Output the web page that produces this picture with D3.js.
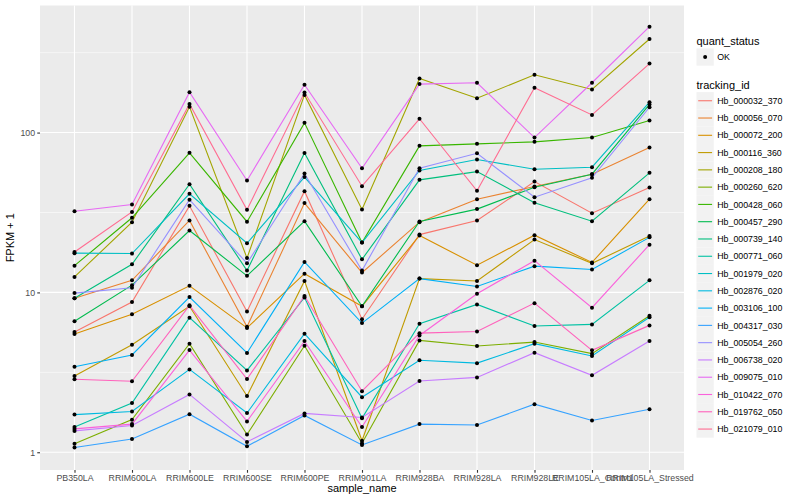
<!DOCTYPE html>
<html><head><meta charset="utf-8">
<script src="https://cdn.jsdelivr.net/npm/d3@7"></script>
<style>
body{margin:0;background:#fff}
svg{display:block}
text{font-family:"Liberation Sans",Arial,Helvetica,sans-serif}
</style>
</head><body><svg id="chart" width="800" height="500"></svg>
<script>
// ---- data ----
const samples = ["PB350LA","RRIM600LA","RRIM600LE","RRIM600SE","RRIM600PE","RRIM901LA","RRIM928BA","RRIM928LA","RRIM928LE","RRIM105LA_Control","RRIM105LA_Stressed"];
const trackingIds = ["Hb_000032_370","Hb_000056_070","Hb_000072_200","Hb_000116_360","Hb_000208_180","Hb_000260_620","Hb_000428_060","Hb_000457_290","Hb_000739_140","Hb_000771_060","Hb_001979_020","Hb_002876_020","Hb_003106_100","Hb_004317_030","Hb_005054_260","Hb_006738_020","Hb_009075_010","Hb_010422_070","Hb_019762_050","Hb_021079_010"];
const palette = ["#F8766D","#EA8331","#D89000","#C09B00","#A3A500","#7CAE00","#39B600","#00BB4E","#00BF7D","#00C1A3","#00BFC4","#00BAE0","#00B0F6","#35A2FF","#9590FF","#C77CFF","#E76BF3","#FA62DB","#FF62BC","#FF6C91"];
const quantStatus = ["OK"];
const yTicks = [1, 10, 100];
const yMinor = [Math.sqrt(10)/10, Math.sqrt(10), Math.sqrt(10)*10, Math.sqrt(10)*100];

// FPKM + 1 per sample, one array per tracking id
const hb_000032_370 = [5.65, 8.7, 34.8, 7.6, 43.0, 6.8, 23.0, 28.2, 49.4, 31.3, 45.3];
const hb_000056_070 = [9.2, 11.9, 28.2, 6.1, 36.2, 13.3, 27.5, 38.3, 46.0, 54.9, 80.6];
const hb_000072_200 = [5.5, 7.3, 11.0, 6.0, 13.1, 8.2, 22.7, 14.8, 22.8, 15.4, 38.3];
const hb_000116_360 = [3.0, 4.7, 8.2, 2.25, 11.8, 1.18, 12.2, 11.8, 21.4, 15.2, 22.5];
const hb_000208_180 = [12.5, 27.5, 145, 16.4, 172, 33.0, 218, 164, 230, 186, 385];
const hb_000260_620 = [1.13, 1.60, 4.78, 1.29, 4.64, 1.14, 5.01, 4.62, 4.89, 4.14, 7.15];
const hb_000428_060 = [14.7, 29.3, 74.7, 27.7, 115, 20.5, 82.6, 85.0, 87.5, 93.1, 119];
const hb_000457_290 = [6.6, 11.1, 24.4, 12.7, 27.9, 8.2, 27.8, 33.2, 45.5, 54.9, 150];
const hb_000739_140 = [9.2, 15.0, 47.5, 13.7, 74.5, 16.1, 50.6, 57.0, 36.4, 27.9, 56.0];
const hb_000771_060 = [1.44, 2.03, 6.95, 3.25, 9.3, 1.63, 6.37, 8.41, 6.16, 6.31, 11.9];
const hb_001979_020 = [17.6, 17.5, 41.4, 20.3, 52.7, 20.5, 57.9, 67.8, 59.0, 60.7, 155];
const hb_002876_020 = [1.72, 1.80, 3.30, 1.76, 5.52, 2.21, 3.76, 3.61, 4.78, 4.0, 7.0];
const hb_003106_100 = [3.43, 4.06, 9.35, 4.18, 15.5, 6.43, 12.2, 10.9, 14.6, 13.9, 22.1];
const hb_004317_030 = [1.07, 1.21, 1.73, 1.09, 1.70, 1.11, 1.50, 1.48, 2.0, 1.58, 1.86];
const hb_005054_260 = [9.9, 10.7, 38.0, 15.2, 55.4, 13.7, 59.8, 74.2, 39.4, 52.1, 144];
const hb_006738_020 = [1.36, 1.47, 2.30, 1.16, 1.75, 1.65, 2.79, 2.94, 4.20, 3.03, 4.96];
const hb_009075_010 = [32.2, 35.5, 179, 50.1, 199, 59.8, 201, 205, 93.1, 205, 460];
const hb_010422_070 = [1.40, 1.50, 4.36, 1.56, 4.96, 1.44, 5.38, 9.81, 15.8, 8.02, 19.9];
const hb_019762_050 = [2.86, 2.78, 8.3, 2.87, 9.5, 2.41, 5.56, 5.70, 8.57, 4.34, 6.22];
const hb_021079_010 = [17.9, 31.9, 151, 32.9, 178, 46.2, 122, 43.2, 191, 129, 270];

const seriesValues = [hb_000032_370, hb_000056_070, hb_000072_200, hb_000116_360, hb_000208_180,
  hb_000260_620, hb_000428_060, hb_000457_290, hb_000739_140, hb_000771_060, hb_001979_020,
  hb_002876_020, hb_003106_100, hb_004317_030, hb_005054_260, hb_006738_020, hb_009075_010,
  hb_010422_070, hb_019762_050, hb_021079_010];

// ---- layout ----
const panel = {left: 40, right: 684, top: 5.5, bottom: 470};
const svg = d3.select("#chart");

const x = d3.scalePoint().domain(samples).range([panel.left, panel.right]).padding(0.6);
const y = d3.scaleLog().domain([Math.pow(10, -0.111), Math.pow(10, 2.795)]).range([panel.bottom, panel.top]);
const color = d3.scaleOrdinal().domain(trackingIds).range(palette);

svg.append("rect").attr("x", 0).attr("y", 0).attr("width", 800).attr("height", 500).attr("fill", "#fff");
svg.append("rect").attr("x", panel.left).attr("y", panel.top)
  .attr("width", panel.right - panel.left).attr("height", panel.bottom - panel.top).attr("fill", "#EBEBEB");

const grid = svg.append("g");
const [d0, d1] = y.domain();
grid.selectAll("line.minor").data(yMinor.filter(v => v >= d0 && v <= d1)).join("line")
  .attr("x1", panel.left).attr("x2", panel.right)
  .attr("y1", d => y(d)).attr("y2", d => y(d))
  .attr("stroke", "#fff").attr("stroke-width", 0.55);
grid.selectAll("line.majy").data(yTicks).join("line")
  .attr("x1", panel.left).attr("x2", panel.right)
  .attr("y1", d => y(d)).attr("y2", d => y(d))
  .attr("stroke", "#fff").attr("stroke-width", 1.1);
grid.selectAll("line.majx").data(samples).join("line")
  .attr("x1", d => x(d)).attr("x2", d => x(d))
  .attr("y1", panel.top).attr("y2", panel.bottom)
  .attr("stroke", "#fff").attr("stroke-width", 1.1);

// lines
const line = d3.line().x((d, i) => x(samples[i])).y(d => y(d));
const series = trackingIds.map((id, k) => ({id, values: seriesValues[k]}));
svg.append("g").selectAll("path").data(series).join("path")
  .attr("d", d => line(d.values))
  .attr("fill", "none")
  .attr("stroke", d => color(d.id))
  .attr("stroke-width", 1.1);

// points
const pts = series.flatMap(s => s.values.map((v, i) => ({s: samples[i], v})));
svg.append("g").selectAll("circle").data(pts).join("circle")
  .attr("cx", d => x(d.s)).attr("cy", d => y(d.v)).attr("r", 2)
  .attr("fill", "#000");

// axes
const yAxis = svg.append("g").attr("transform", `translate(${panel.left},0)`)
  .call(d3.axisLeft(y).tickValues(yTicks).tickFormat(d3.format("d")).tickSize(2.75).tickPadding(2.2));
const xAxis = svg.append("g").attr("transform", `translate(0,${panel.bottom})`)
  .call(d3.axisBottom(x).tickSize(2.75).tickPadding(2.2));
[yAxis, xAxis].forEach(a => {
  a.select(".domain").remove();
  a.selectAll(".tick line").attr("stroke", "#333333").attr("stroke-width", 1.1);
  a.selectAll(".tick text").attr("fill", "#4D4D4D").style("font-size", "8.8px")
    .style("font-family", '"Liberation Sans",Arial,sans-serif');
});

svg.append("text").attr("x", (panel.left + panel.right) / 2).attr("y", 492)
  .attr("text-anchor", "middle").style("font-size", "11px").attr("fill", "#000").text("sample_name");
svg.append("text").attr("transform", `translate(14,${(panel.top + panel.bottom) / 2}) rotate(-90)`)
  .attr("text-anchor", "middle").style("font-size", "11px").attr("fill", "#000").text("FPKM + 1");

// legend
const lg = svg.append("g");
const keyX = 696.5, keyS = 17.28;
lg.append("text").attr("x", keyX).attr("y", 44.5).style("font-size", "11px").text("quant_status");
lg.selectAll("rect.q").data(quantStatus).join("rect")
  .attr("x", keyX).attr("y", (d, i) => 48.4 + i * keyS).attr("width", keyS).attr("height", keyS).attr("fill", "#F2F2F2");
lg.selectAll("circle.q").data(quantStatus).join("circle")
  .attr("cx", keyX + keyS / 2).attr("cy", (d, i) => 57 + i * keyS).attr("r", 2).attr("fill", "#000");
lg.selectAll("text.q").data(quantStatus).join("text")
  .attr("x", keyX + keyS + 3.5).attr("y", (d, i) => 60.2 + i * keyS)
  .style("font-size", "8.8px").attr("fill", "#000").text(d => d);

lg.append("text").attr("x", keyX).attr("y", 89).style("font-size", "11px").text("tracking_id");
const rows = lg.selectAll("g.row").data(trackingIds).join("g")
  .attr("transform", (d, i) => `translate(${keyX},${92.1 + i * keyS})`);
rows.append("rect").attr("width", keyS).attr("height", keyS).attr("fill", "#F2F2F2");
rows.append("line").attr("x1", 1.7).attr("x2", keyS - 1.7)
  .attr("y1", keyS / 2).attr("y2", keyS / 2)
  .attr("stroke", d => color(d)).attr("stroke-width", 1.1);
rows.append("text").attr("x", keyS + 3.5).attr("y", keyS / 2 + 3.2)
  .style("font-size", "8.8px").attr("fill", "#000").text(d => d);
</script>
</body></html>
